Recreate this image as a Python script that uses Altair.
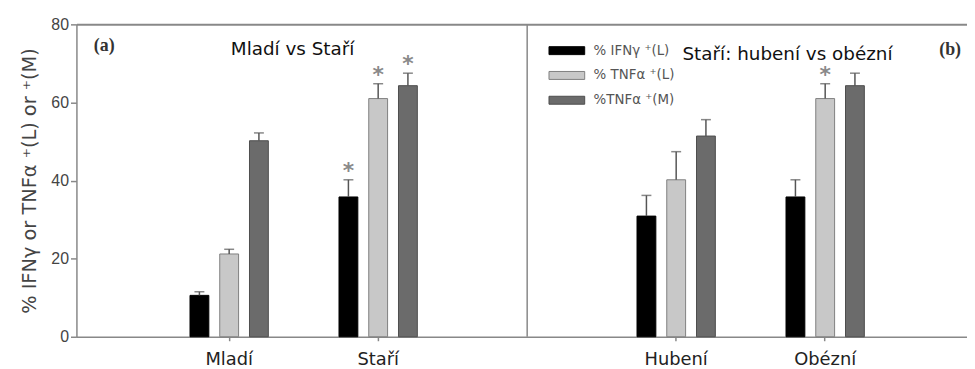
import altair as alt
import pandas as pd

# ---- data ----
groups = ["Mladí", "Staří", "Hubení", "Obézní"]
spacer = " "
series = ["% IFNγ ⁺(L)", "% TNFα ⁺(L)", "%TNFα ⁺(M)"]

ifng = [10.6, 35.8, 30.9, 35.8]
ifng_err = [0.9, 4.4, 5.3, 4.4]
tnf_l = [21.2, 61.0, 40.2, 61.0]
tnf_l_err = [1.2, 3.8, 7.2, 3.8]
tnf_m = [50.2, 64.3, 51.4, 64.3]
tnf_m_err = [2.0, 3.2, 4.2, 3.2]

ifng_sig = [False, True, False, False]
tnf_l_sig = [False, True, False, True]
tnf_m_sig = [False, True, False, False]

panel_titles = ["Mladí vs Staří", "Staří: hubení vs obézní"]
panel_tags = ["(a)", "(b)"]
y_ticks = [0, 20, 40, 60, 80]
y_title = "% IFNγ or TNFα ⁺(L) or ⁺(M)"

fills = ["#000000", "#c8c8c8", "#6b6b6b"]
strokes = ["#000000", "#7f7f7f", "#4d4d4d"]

rows = []
for s, vals, errs, sigs in zip(series, [ifng, tnf_l, tnf_m],
                               [ifng_err, tnf_l_err, tnf_m_err],
                               [ifng_sig, tnf_l_sig, tnf_m_sig]):
    for g, v, e, sg in zip(groups, vals, errs, sigs):
        rows.append({"group": g, "series": s, "value": v,
                     "upper": v + e, "sig": sg})
df = pd.DataFrame(rows)

x_domain = [groups[0], groups[1], spacer, groups[2], groups[3]]
x_scale = alt.Scale(domain=x_domain, paddingInner=0, paddingOuter=0.4884, align=0.5375)
xoff_domain = ["_padL"] + series + ["_padR"]
xoff_scale = alt.Scale(domain=xoff_domain, paddingInner=0.3667, paddingOuter=0.1875)
y_scale = alt.Scale(domain=[0, 80], nice=False, zero=True)

y_axis = alt.Axis(values=y_ticks, title=y_title, grid=False,
                  labelFont="Liberation Sans", labelFontSize=16,
                  labelColor="#444444", labelPadding=2,
                  tickSize=6, tickColor="#888888", tickWidth=1.5,
                  domainColor="#888888", domainWidth=1.5,
                  titleFont="DejaVu Sans", titleFontSize=19.5,
                  titleFontWeight="normal", titleColor="#444444",
                  titlePadding=11)

legend = alt.Legend(
    title=None, orient="none", legendX=481.5, legendY=13.5,
    symbolType="M-1.44,-0.32H1.44V0.32H-1.44Z", symbolSize=625,
    symbolStrokeWidth=1, labelFont="DejaVu Sans", labelFontSize=13.5,
    labelColor="#555555", labelOffset=14, rowPadding=5, padding=0,
    labelLimit=300,
)

x_bottom = alt.X(
    "group:N", scale=x_scale, sort=x_domain, title=None,
    axis=alt.Axis(values=groups, orient="bottom", labelAngle=0,
                  labelFont="DejaVu Sans", labelFontSize=18, labelColor="#222222",
                  labelPadding=10, tickSize=4, tickColor="#888888", tickWidth=1.5,
                  domainColor="#888888", domainWidth=1.5, grid=False),
)
x_plain = alt.X("group:N", scale=x_scale, sort=x_domain, axis=None)
xoff = alt.XOffset("series:N", scale=xoff_scale, sort=xoff_domain)

base = alt.Chart(df)

bars = base.mark_bar(strokeWidth=1).encode(
    x=x_bottom,
    xOffset=xoff,
    y=alt.Y("value:Q", scale=y_scale, axis=y_axis),
    fill=alt.Fill("series:N", scale=alt.Scale(domain=series, range=fills), legend=legend),
    stroke=alt.Stroke("series:N", scale=alt.Scale(domain=series, range=strokes), legend=legend),
)

whiskers = base.mark_rule(color="#555555", strokeWidth=1.5).encode(
    x=x_plain, xOffset=xoff,
    y=alt.Y("value:Q", scale=y_scale, axis=y_axis), y2="upper:Q",
)

caps = base.mark_tick(orient="horizontal", color="#555555", size=10, thickness=1.5).encode(
    x=x_plain, xOffset=xoff,
    y=alt.Y("upper:Q", scale=y_scale, axis=y_axis),
)

stars = base.transform_filter("datum.sig").mark_text(
    text="*", font="DejaVu Sans", fontSize=22, fontWeight="bold",
    color="#8a8a8a", baseline="alphabetic", align="center", dy=-2,
).encode(x=x_plain, xOffset=xoff, y=alt.Y("upper:Q", scale=y_scale, axis=y_axis))

divider = alt.Chart(pd.DataFrame({"group": [spacer]})).mark_rule(
    color="#888888", strokeWidth=1.5
).encode(
    x=alt.X("group:N", scale=x_scale, sort=x_domain, title=None,
            axis=alt.Axis(orient="top", labels=False, ticks=False, title=None,
                          domain=True, domainColor="#888888", domainWidth=2,
                          grid=False)),
)

def label(text, x, y, size, font, color, weight="normal"):
    return alt.Chart(pd.DataFrame({"t": [text]})).mark_text(
        font=font, fontSize=size, fontWeight=weight, color=color,
        align="center", baseline="alphabetic",
    ).encode(text="t:N", x=alt.value(x), y=alt.value(y))

t1 = label(panel_titles[0], 218, 31, 18.5, "DejaVu Sans", "#111111")
t2 = label(panel_titles[1], 717, 36, 18.5, "DejaVu Sans", "#111111")
a1 = label(panel_tags[0], 28, 27, 18, "Liberation Serif", "#333333", "bold")
a2 = label(panel_tags[1], 881, 31, 18, "Liberation Serif", "#333333", "bold")

chart = alt.layer(divider, bars, whiskers, caps, stars, t1, t2, a1, a2).resolve_axis(
    x="independent"
).properties(
    width=898, height=315,
    autosize=alt.AutoSizeParams(type="none"),
    padding={"left": 69, "top": 15, "right": 0, "bottom": 31},
    background="white",
).configure_view(stroke=None)

chart.save("out.html", embed_options={"renderer": "svg", "actions": False})
